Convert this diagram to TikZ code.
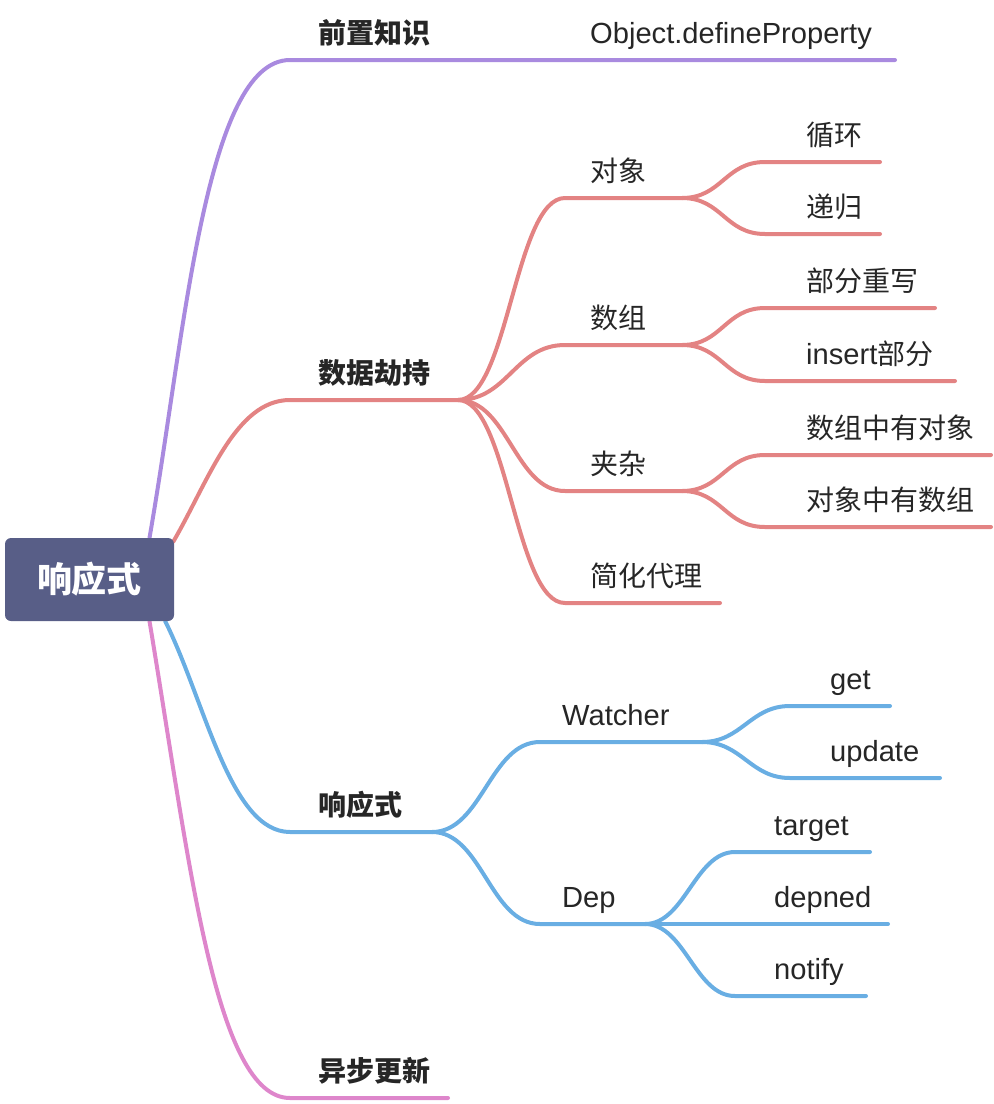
\documentclass[tikz,border=0pt]{standalone}
\usepackage{fontspec}
\setmainfont{Liberation Sans}[Scale=1.04]
\newfontfamily\cjk{Noto Sans CJK SC}
\usetikzlibrary{backgrounds}

\definecolor{rootfill}{HTML}{585E87}
\definecolor{txtdark}{HTML}{262626}
\definecolor{brpurple}{HTML}{A98ADF}
\definecolor{brred}{HTML}{E38383}
\definecolor{brblue}{HTML}{69AEE3}
\definecolor{brpink}{HTML}{DE86CB}

\begin{document}
\begin{tikzpicture}[x=1pt,y=-1pt,
    branch/.style={line width=4pt, line cap=round},
    rootbox/.style={fill=rootfill, rounded corners=6pt, minimum width=169pt,
        minimum height=83pt, inner sep=0pt, text=white,
        font=\fontsize{35}{40}\selectfont\cjk\bfseries},
    topic/.style={anchor=base west, inner sep=0pt, text=txtdark,
        font=\fontsize{28}{32}\selectfont\cjk\bfseries},
    leaf/.style={anchor=base west, inner sep=0pt, text=txtdark,
        font=\fontsize{28}{32}\selectfont},
    leafcn/.style={leaf, font=\fontsize{28}{32}\selectfont\cjk}]
    \useasboundingbox (0,0) rectangle (994,1104);

    % Central topic
    \node[rootbox] (root) at (89.5,579.5) {响应式};

    % Main topics
    \node[topic] (pre) at (318,43) {前置知识};
    \node[leaf] (defprop) at (590,43) {Object.defineProperty};
    \node[topic] (hijack) at (318,383) {数据劫持};
    \node[topic] (react) at (318,815) {响应式};
    \node[topic] (async) at (318,1081) {异步更新};

    % Data hijacking
    \node[leafcn] (obj) at (590,181) {对象};
    \node[leafcn] (loop) at (806,145) {循环};
    \node[leafcn] (recur) at (806,217) {递归};
    \node[leafcn] (arr) at (590,328) {数组};
    \node[leafcn] (rewrite) at (806,291) {部分重写};
    \node[leaf] (insert) at (806,364) {insert{\cjk 部分}};
    \node[leafcn] (mix) at (590,474) {夹杂};
    \node[leafcn] (arrobj) at (806,438) {数组中有对象};
    \node[leafcn] (objarr) at (806,510) {对象中有数组};
    \node[leafcn] (proxy) at (590,586) {简化代理};

    % Reactivity
    \node[leaf] (watcher) at (562,725) {Watcher};
    \node[leaf] (get) at (830,689) {get};
    \node[leaf] (update) at (830,761) {update};
    \node[leaf] (dep) at (562,907) {Dep};
    \node[leaf] (target) at (774,835) {target};
    \node[leaf] (depned) at (774,907) {depned};
    \node[leaf] (notify) at (774,979) {notify};

    % Underline end points
    \coordinate (preS) at (290,60);      \coordinate (preE) at (895,60);
    \coordinate (hijackS) at (290,400);  \coordinate (hijackE) at (458,400);
    \coordinate (reactS) at (290,832);   \coordinate (reactE) at (432,832);
    \coordinate (asyncS) at (290,1098);  \coordinate (asyncE) at (448,1098);
    \coordinate (objS) at (565,198);     \coordinate (objE) at (682,198);
    \coordinate (loopS) at (765,162);    \coordinate (loopE) at (880,162);
    \coordinate (recurS) at (765,234);   \coordinate (recurE) at (880,234);
    \coordinate (arrS) at (565,345);     \coordinate (arrE) at (682,345);
    \coordinate (rewriteS) at (765,308); \coordinate (rewriteE) at (935,308);
    \coordinate (insertS) at (765,381);  \coordinate (insertE) at (955,381);
    \coordinate (mixS) at (565,491);     \coordinate (mixE) at (682,491);
    \coordinate (arrobjS) at (765,455);  \coordinate (arrobjE) at (991,455);
    \coordinate (objarrS) at (765,527);  \coordinate (objarrE) at (991,527);
    \coordinate (proxyS) at (565,603);   \coordinate (proxyE) at (720,603);
    \coordinate (watcherS) at (540,742); \coordinate (watcherE) at (702,742);
    \coordinate (getS) at (790,706);     \coordinate (getE) at (890,706);
    \coordinate (updateS) at (790,778);  \coordinate (updateE) at (940,778);
    \coordinate (depS) at (540,924);     \coordinate (depE) at (645,924);
    \coordinate (targetS) at (735,852);  \coordinate (targetE) at (870,852);
    \coordinate (depnedE) at (888,924);
    \coordinate (notifyS) at (735,996);  \coordinate (notifyE) at (866,996);

    \begin{pgfonlayer}{background}
    % Branches from the central topic
    \draw[branch, brpurple] ([xshift=60pt]root.north) .. controls +(35,-200) and +(-85,0) .. (preS) -- (preE);
    \draw[branch, brred] ([xshift=-1pt,yshift=-4pt]root.north east) .. controls +(35,-60) and +(-55,0) .. (hijackS) -- (hijackE);
    \draw[branch, brblue] ([xshift=-9pt]root.south east) .. controls +(40,80) and +(-60,0) .. (reactS) -- (reactE);
    \draw[branch, brpink] ([xshift=60pt]root.south) .. controls +(40,240) and +(-75,0) .. (asyncS) -- (asyncE);
    \end{pgfonlayer}

    % Data hijacking branches
    \begin{scope}[brred]
    \draw[branch] (hijackE) .. controls +(50,0) and +(-50,0) .. (objS) -- (objE);
    \draw[branch] (hijackE) .. controls +(50,0) and +(-50,0) .. (arrS) -- (arrE);
    \draw[branch] (hijackE) .. controls +(50,0) and +(-50,0) .. (mixS) -- (mixE);
    \draw[branch] (hijackE) .. controls +(50,0) and +(-50,0) .. (proxyS) -- (proxyE);
    \draw[branch] (objE) .. controls +(40,0) and +(-40,0) .. (loopS) -- (loopE);
    \draw[branch] (objE) .. controls +(40,0) and +(-40,0) .. (recurS) -- (recurE);
    \draw[branch] (arrE) .. controls +(40,0) and +(-40,0) .. (rewriteS) -- (rewriteE);
    \draw[branch] (arrE) .. controls +(40,0) and +(-40,0) .. (insertS) -- (insertE);
    \draw[branch] (mixE) .. controls +(40,0) and +(-40,0) .. (arrobjS) -- (arrobjE);
    \draw[branch] (mixE) .. controls +(40,0) and +(-40,0) .. (objarrS) -- (objarrE);
    \end{scope}

    % Reactivity branches
    \begin{scope}[brblue]
    \draw[branch] (reactE) .. controls +(50,0) and +(-50,0) .. (watcherS) -- (watcherE);
    \draw[branch] (reactE) .. controls +(50,0) and +(-50,0) .. (depS) -- (depE);
    \draw[branch] (watcherE) .. controls +(40,0) and +(-40,0) .. (getS) -- (getE);
    \draw[branch] (watcherE) .. controls +(40,0) and +(-40,0) .. (updateS) -- (updateE);
    \draw[branch] (depE) .. controls +(40,0) and +(-40,0) .. (targetS) -- (targetE);
    \draw[branch] (depE) -- (depnedE);
    \draw[branch] (depE) .. controls +(40,0) and +(-40,0) .. (notifyS) -- (notifyE);
    \end{scope}
\end{tikzpicture}
\end{document}
